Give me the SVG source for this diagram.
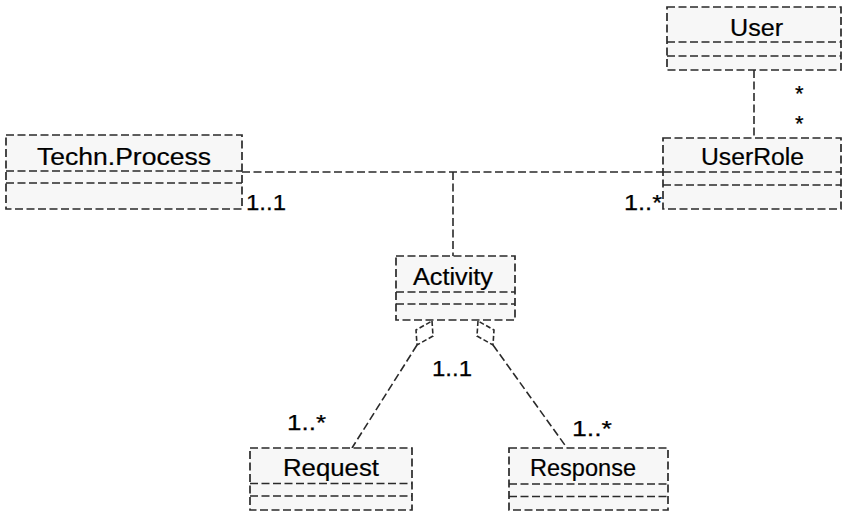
<svg xmlns="http://www.w3.org/2000/svg" width="844" height="512" viewBox="0 0 844 512">
  <style>
    .box { fill: #f7f7f7; stroke: #2a2a2a; stroke-width: 1.7; stroke-dasharray: 8 3.5; }
    .sep { fill: none; stroke: #2a2a2a; stroke-width: 1.7; stroke-dasharray: 8 3.5; }
    .link { fill: none; stroke: #2a2a2a; stroke-width: 1.6; stroke-dasharray: 8 3.5; }
    .agg { fill: #ffffff; stroke: #2a2a2a; stroke-width: 1.6; stroke-dasharray: 5 2.5; }
    .title { font-family: "Liberation Sans", Arial, sans-serif; font-size: 23px; fill: #000; stroke: #000; stroke-width: 0.2; }
    .mult { font-family: "Liberation Sans", Arial, sans-serif; font-size: 22px; fill: #000; stroke: #000; stroke-width: 0.25; }
  </style>
  <rect width="844" height="512" fill="#ffffff"/>

  <!-- associations -->
  <g id="connectors">
    <line class="link" x1="242" y1="172" x2="663" y2="172"/>
    <line class="link" x1="453" y1="172" x2="453" y2="256"/>
    <line class="link" x1="754" y1="70" x2="754" y2="138"/>
    <line class="link" x1="417" y1="345" x2="352" y2="448"/>
    <line class="link" x1="493" y1="345" x2="567" y2="448"/>
    <polygon class="agg" points="432,321 433,336 417,345 416,330"/>
    <polygon class="agg" points="478,321 477,336 493,345 494,330"/>
  </g>

  <g id="user">
    <rect class="box" x="667" y="7" width="174" height="63"/>
    <line class="sep" x1="667" y1="42" x2="841" y2="42"/>
    <line class="sep" x1="667" y1="56" x2="841" y2="56"/>
    <text class="title" x="730" y="36" textLength="53" lengthAdjust="spacingAndGlyphs">User</text>
  </g>

  <g id="techn-process">
    <rect class="box" x="6" y="135" width="236" height="74"/>
    <line class="sep" x1="6" y1="171" x2="242" y2="171"/>
    <line class="sep" x1="6" y1="183" x2="242" y2="183"/>
    <text class="title" x="37" y="165" textLength="174" lengthAdjust="spacingAndGlyphs">Techn.Process</text>
  </g>

  <g id="user-role">
    <rect class="box" x="663" y="138" width="178" height="71"/>
    <line class="sep" x1="663" y1="172" x2="841" y2="172"/>
    <line class="sep" x1="663" y1="185" x2="841" y2="185"/>
    <text class="title" x="701" y="164.5" textLength="103" lengthAdjust="spacingAndGlyphs">UserRole</text>
  </g>

  <g id="activity">
    <rect class="box" x="396" y="256" width="119" height="64"/>
    <line class="sep" x1="396" y1="292" x2="515" y2="292"/>
    <line class="sep" x1="396" y1="304" x2="515" y2="304"/>
    <text class="title" x="413" y="285" textLength="80" lengthAdjust="spacingAndGlyphs">Activity</text>
  </g>

  <g id="request">
    <rect class="box" x="250" y="448" width="162" height="62"/>
    <line class="sep" x1="250" y1="483.5" x2="412" y2="483.5"/>
    <line class="sep" x1="250" y1="496" x2="412" y2="496"/>
    <text class="title" x="283" y="475.5" textLength="96" lengthAdjust="spacingAndGlyphs">Request</text>
  </g>

  <g id="response">
    <rect class="box" x="509" y="448" width="159" height="62"/>
    <line class="sep" x1="509" y1="484" x2="668" y2="484"/>
    <line class="sep" x1="509" y1="496.5" x2="668" y2="496.5"/>
    <text class="title" x="530" y="475.5" textLength="106" lengthAdjust="spacingAndGlyphs">Response</text>
  </g>

  <!-- multiplicities -->
  <g id="multiplicities">
    <text class="mult" x="246" y="210" textLength="40" lengthAdjust="spacingAndGlyphs">1..1</text>
    <text class="mult" x="624" y="210" textLength="38" lengthAdjust="spacingAndGlyphs">1..*</text>
    <text class="mult" x="795" y="101">*</text>
    <text class="mult" x="795" y="131">*</text>
    <text class="mult" x="432" y="376" textLength="40" lengthAdjust="spacingAndGlyphs">1..1</text>
    <text class="mult" x="287" y="430" textLength="39" lengthAdjust="spacingAndGlyphs">1..*</text>
    <text class="mult" x="572" y="436" textLength="40" lengthAdjust="spacingAndGlyphs">1..*</text>
  </g>
</svg>
